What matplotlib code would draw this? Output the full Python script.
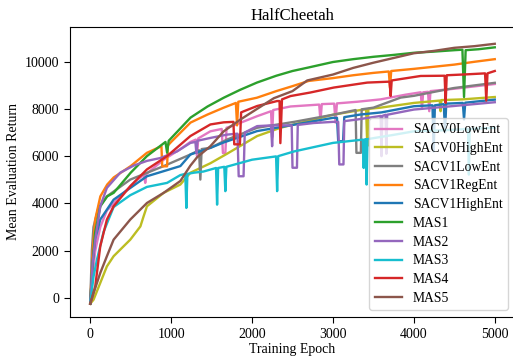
import matplotlib
matplotlib.use("Agg")
import matplotlib.pyplot as plt

plt.rcParams['font.family'] = ['Liberation Serif', 'DejaVu Serif']
plt.rcParams['font.size'] = 10

labels = ["SACV0LowEnt", "SACV0HighEnt", "SACV1LowEnt", "SACV1RegEnt", "SACV1HighEnt",
          "MAS1", "MAS2", "MAS3", "MAS4", "MAS5"]
colors = ["#e377c2", "#bcbd22", "#7f7f7f", "#ff7f0e", "#1f77b4",
          "#2ca02c", "#9467bd", "#17becf", "#d62728", "#8c564b"]

sacv0_low_x = [0, 30, 62, 124, 206, 371, 578, 665, 680, 695, 908, 1114, 1238, 1305, 1320, 1335, 1485, 1625, 1640, 1670,
               1685, 1775, 2063, 2235, 2248, 2261, 2475, 2830, 2846, 2862, 3015, 3032, 3049, 3300, 3589, 3900, 4085, 4100, 4115, 4175,
               4190, 4205, 4500, 4750, 5000]
sacv0_low_y = [-240, 1000, 2000, 3000, 3700, 4300, 5000, 5200, 4870, 5250, 5850, 6300, 6600, 6700, 6000, 6750, 7050, 7150, 6130, 6130,
               7200, 7300, 7690, 7900, 6800, 7950, 8100, 8180, 7480, 8200, 8220, 7420, 8230, 8300, 8400, 8600, 8700, 8000, 8700, 8720,
               7900, 8750, 8850, 8950, 9050]

sacv0_high_x = [0, 41, 124, 206, 289, 495, 620, 660, 701, 908, 1114, 1238, 1485, 1690, 2063, 2351, 2682, 3000, 3340, 3410,
                3424, 3438, 3589, 4000, 4320, 4330, 4340, 4600, 5000]
sacv0_high_y = [-240, -70, 640, 1340, 1770, 2470, 3030, 3460, 3880, 4450, 4800, 5300, 5700, 6100, 6850, 7200, 7480, 7750, 7950, 7980,
                6420, 8000, 8050, 8250, 8350, 7900, 8370, 8400, 8500]

sacv1_low_x = [0, 20, 40, 100, 206, 495, 908, 1238, 1345, 1361, 1377, 1485, 1690, 2063, 2520, 3000, 3280, 3290, 3345, 3355,
               3500, 3836, 4000, 4494, 5000]
sacv1_low_y = [-240, 2000, 3000, 3800, 4300, 5010, 5580, 6070, 6250, 5010, 6300, 6350, 6700, 7200, 7450, 7750, 7950, 6140, 6140, 7980,
               8050, 8475, 8550, 8880, 9100]

sacv1_reg_x = [0, 30, 60, 125, 210, 290, 500, 700, 880, 890, 950, 960, 1000, 1240, 1450, 1650, 1800, 1815, 1830, 2060,
               2300, 2500, 2700, 3000, 3250, 3500, 3690, 3705, 3720, 4000, 4250, 4500, 4750, 5000]
sacv1_reg_y = [-240, 2000, 3300, 4300, 4800, 5100, 5580, 6140, 6420, 5570, 5570, 6450, 6600, 7420, 7760, 8050, 8250, 7300, 8300, 8470,
               8750, 8960, 9180, 9300, 9420, 9520, 9580, 8900, 9600, 9690, 9780, 9870, 9990, 10100]

sacv1_high_x = [0, 30, 62, 124, 289, 701, 1114, 1238, 1485, 1650, 2063, 2520, 3000, 3050, 3065, 3125, 3140, 3340, 3600, 4000,
                4230, 4245, 4260, 4370, 4385, 4400, 4605, 4620, 4635, 5000]
sacv1_high_y = [-240, 1500, 2500, 3320, 4160, 5150, 5580, 6070, 6350, 6580, 7060, 7330, 7620, 7620, 6630, 6630, 7650, 7760, 7850, 8110,
                8150, 6200, 8150, 8200, 7000, 8220, 8250, 7550, 8260, 8390]

mas1_x = [0, 30, 60, 125, 210, 290, 500, 700, 930, 950, 970, 1240, 1450, 1650, 1850, 2060, 2300, 2500, 2700, 3000,
          3250, 3500, 3750, 4000, 4250, 4500, 4600, 4620, 4640, 4800, 5000]
mas1_y = [-240, 1500, 2760, 3880, 4300, 4450, 5300, 6000, 6600, 6150, 6650, 7630, 8100, 8470, 8800, 9110, 9400, 9600, 9750, 9980,
          10100, 10200, 10280, 10370, 10420, 10480, 10500, 8500, 10480, 10520, 10600]

mas2_x = [0, 30, 62, 124, 206, 371, 536, 701, 866, 1073, 1238, 1300, 1312, 1324, 1485, 1690, 1820, 1835, 1895, 1910,
          2063, 2235, 2248, 2261, 2455, 2490, 2500, 2555, 2565, 2760, 3000, 3065, 3078, 3130, 3140, 3300, 3590, 3600, 3610, 3650,
          3660, 3670, 4000, 4494, 5000]
mas2_y = [-240, 1500, 2470, 3880, 4660, 5300, 5600, 5800, 5920, 6200, 6560, 6600, 6130, 6650, 6770, 6910, 6950, 5150, 5150, 7000,
          7270, 7300, 6420, 7300, 7300, 7300, 5510, 5510, 7320, 7400, 7450, 7450, 5650, 5650, 7480, 7550, 7700, 6000, 7700, 7750,
          6100, 7750, 7970, 8120, 8280]

mas3_x = [0, 41, 83, 165, 289, 495, 701, 950, 1114, 1175, 1188, 1201, 1280, 1400, 1555, 1568, 1581, 1657, 1670, 1683,
          2000, 2297, 2310, 2323, 2520, 3000, 3370, 3380, 3390, 3405, 3416, 3427, 3750, 4000, 4400, 4670, 4680, 4690, 5000]
mas3_y = [-240, 915, 1620, 2800, 3850, 4350, 4700, 4870, 5200, 5250, 3810, 5250, 5300, 5350, 5500, 3950, 5500, 5550, 4520, 5550,
          5850, 5990, 4520, 6000, 6200, 6560, 6700, 5500, 6700, 6720, 4800, 6720, 6900, 7050, 7100, 7150, 5220, 7150, 7200]

mas4_x = [0, 30, 62, 124, 206, 289, 495, 701, 949, 1238, 1485, 1650, 1770, 1780, 1850, 1865, 1900, 2063, 2310, 2340,
          2350, 2370, 2475, 2720, 3010, 3424, 3700, 3713, 3726, 4084, 4380, 4393, 4406, 4660, 4880, 4895, 4910, 5000]
mas4_y = [-240, 100, 490, 2190, 3320, 3880, 4730, 5440, 6000, 6850, 7340, 7430, 7450, 6500, 6500, 7850, 7900, 8120, 8330, 8330,
          6550, 8400, 8540, 8690, 8900, 9110, 9150, 8540, 9200, 9390, 9400, 8250, 9420, 9460, 9500, 8350, 9500, 9600]

mas5_x = [0, 41, 124, 206, 289, 495, 701, 908, 1114, 1238, 1320, 1485, 1650, 1857, 2063, 2270, 2500, 2682, 3000, 3250,
          3500, 3750, 4000, 4250, 4500, 4750, 5000]
mas5_y = [-240, 210, 1060, 1770, 2470, 3320, 4020, 4450, 4950, 5600, 5950, 6420, 7050, 7550, 8000, 8450, 8750, 9200, 9450, 9730,
          9950, 10150, 10350, 10450, 10580, 10650, 10750]

series = [(sacv0_low_x, sacv0_low_y), (sacv0_high_x, sacv0_high_y), (sacv1_low_x, sacv1_low_y),
          (sacv1_reg_x, sacv1_reg_y), (sacv1_high_x, sacv1_high_y), (mas1_x, mas1_y),
          (mas2_x, mas2_y), (mas3_x, mas3_y), (mas4_x, mas4_y), (mas5_x, mas5_y)]

W, H = 513, 357
fig = plt.figure(figsize=(W / 100, H / 100), dpi=100)
ax = fig.add_axes([70 / W, 1 - 317 / H, 445 / W, 290 / H])

for (xs, ys), lab, c in zip(series, labels, colors):
    ax.plot(xs, ys, color=c, lw=1.7, label=lab)

ax.set_xlim(-250, 5250)
ax.set_ylim(-800, 11460)
ax.set_xticks([0, 1000, 2000, 3000, 4000, 5000])
ax.set_yticks([0, 2000, 4000, 6000, 8000, 10000])
ax.set_title("HalfCheetah", fontsize=12, pad=5)
ax.set_xlabel("Training Epoch", labelpad=1)
ax.set_ylabel("Mean Evaluation Return", labelpad=3)
ax.tick_params(length=4.5)
ax.legend(loc="lower right", fontsize=9.8, framealpha=0.8, borderaxespad=0.5,
          labelspacing=0.42, handlelength=2.0)

fig.savefig("out.png", dpi=100)
